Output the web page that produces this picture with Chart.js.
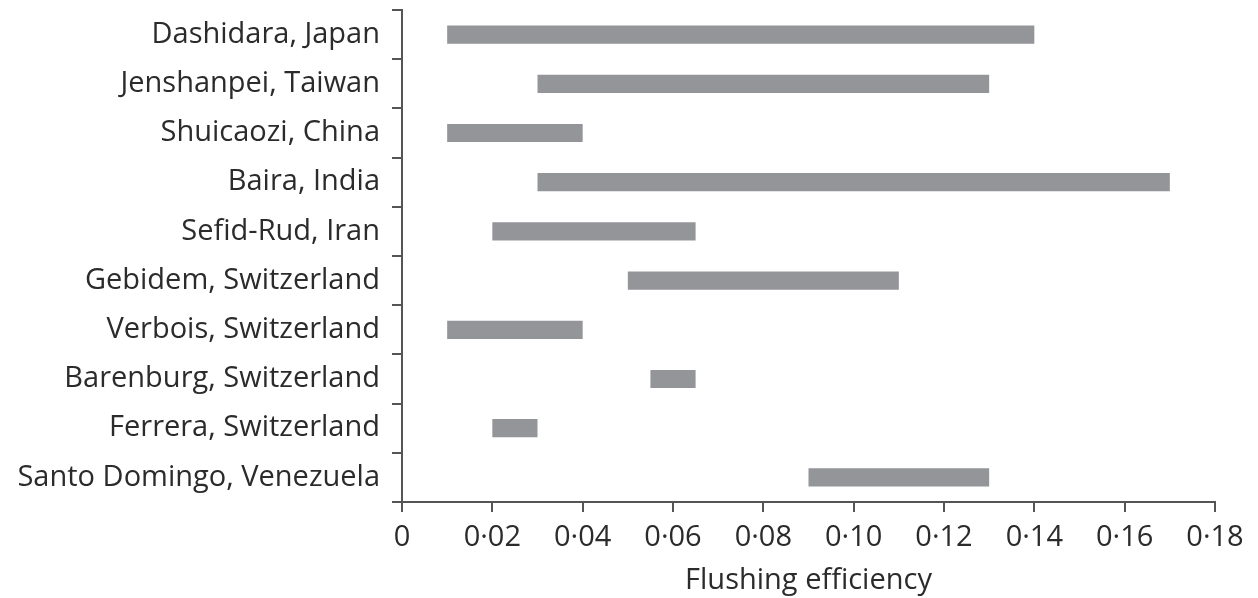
<!DOCTYPE html>
<html>
<head>
<meta charset="utf-8">
<script src="https://cdn.jsdelivr.net/npm/chart.js@4"></script>
<style>
    body { margin: 0; background: #fff; }
</style>
</head>
<body>
<canvas id="myChart" width="1258" height="598"></canvas>
<script>
// reservoir sites, top to bottom
const sites = [
    "Dashidara, Japan",
    "Jenshanpei, Taiwan",
    "Shuicaozi, China",
    "Baira, India",
    "Sefid-Rud, Iran",
    "Gebidem, Switzerland",
    "Verbois, Switzerland",
    "Barenburg, Switzerland",
    "Ferrera, Switzerland",
    "Santo Domingo, Venezuela"
];
// flushing efficiency range (low, high)
const lowValues  = [0.01, 0.03, 0.01, 0.03, 0.02, 0.05, 0.01, 0.055, 0.02, 0.09];
const highValues = [0.14, 0.13, 0.04, 0.17, 0.065, 0.11, 0.04, 0.065, 0.03, 0.13];

const xTicks = [0, 0.02, 0.04, 0.06, 0.08, 0.10, 0.12, 0.14, 0.16, 0.18];

const ranges = lowValues.map((lo, i) => [lo, highValues[i]]);

const fontFamily = "'Open Sans', 'Noto Sans', sans-serif";
const textColor = "#2b2b2b";
const axisColor = "#555555";

window.ctx = document.getElementById('myChart').getContext('2d');

new Chart(ctx, {
    type: 'bar',
    data: {
        labels: sites,
        datasets: [{
            data: ranges,
            backgroundColor: "#939598",
            borderWidth: 0,
            barPercentage: 0.37,
            categoryPercentage: 1
        }]
    },
    options: {
        indexAxis: 'y',
        responsive: false,
        animation: false,
        layout: { padding: { top: 10, right: 43, left: 0, bottom: 0 } },
        plugins: {
            legend: { display: false },
            tooltip: { enabled: false }
        },
        scales: {
            x: {
                min: 0,
                max: 0.18,
                afterBuildTicks: function(scale) {
                    scale.ticks = xTicks.map(v => ({ value: v }));
                },
                afterFit: function(scale) {
                    scale.height = 96;
                    scale.paddingLeft = 0;
                    scale.paddingRight = 0;
                },
                border: { color: axisColor, width: 2 },
                grid: {
                    drawOnChartArea: false,
                    color: axisColor,
                    lineWidth: 2,
                    tickLength: 10
                },
                ticks: {
                    color: textColor,
                    font: { family: fontFamily, size: 29 },
                    padding: 8,
                    callback: function(v) {
                        return v === 0 ? '0' : v.toFixed(2).replace('.', '\u00b7');
                    }
                },
                title: {
                    display: true,
                    text: "Flushing efficiency",
                    color: textColor,
                    font: { family: fontFamily, size: 29 },
                    padding: { top: 0, bottom: 0 }
                }
            },
            y: {
                afterFit: function(scale) {
                    scale.width = 402;
                    scale.paddingTop = 0;
                    scale.paddingBottom = 0;
                },
                border: { color: axisColor, width: 2 },
                grid: {
                    drawOnChartArea: false,
                    offset: true,
                    color: axisColor,
                    lineWidth: 2,
                    tickLength: 10
                },
                ticks: {
                    color: textColor,
                    font: { family: fontFamily, size: 29 },
                    padding: 12
                }
            }
        }
    }
});
</script>
</body>
</html>
